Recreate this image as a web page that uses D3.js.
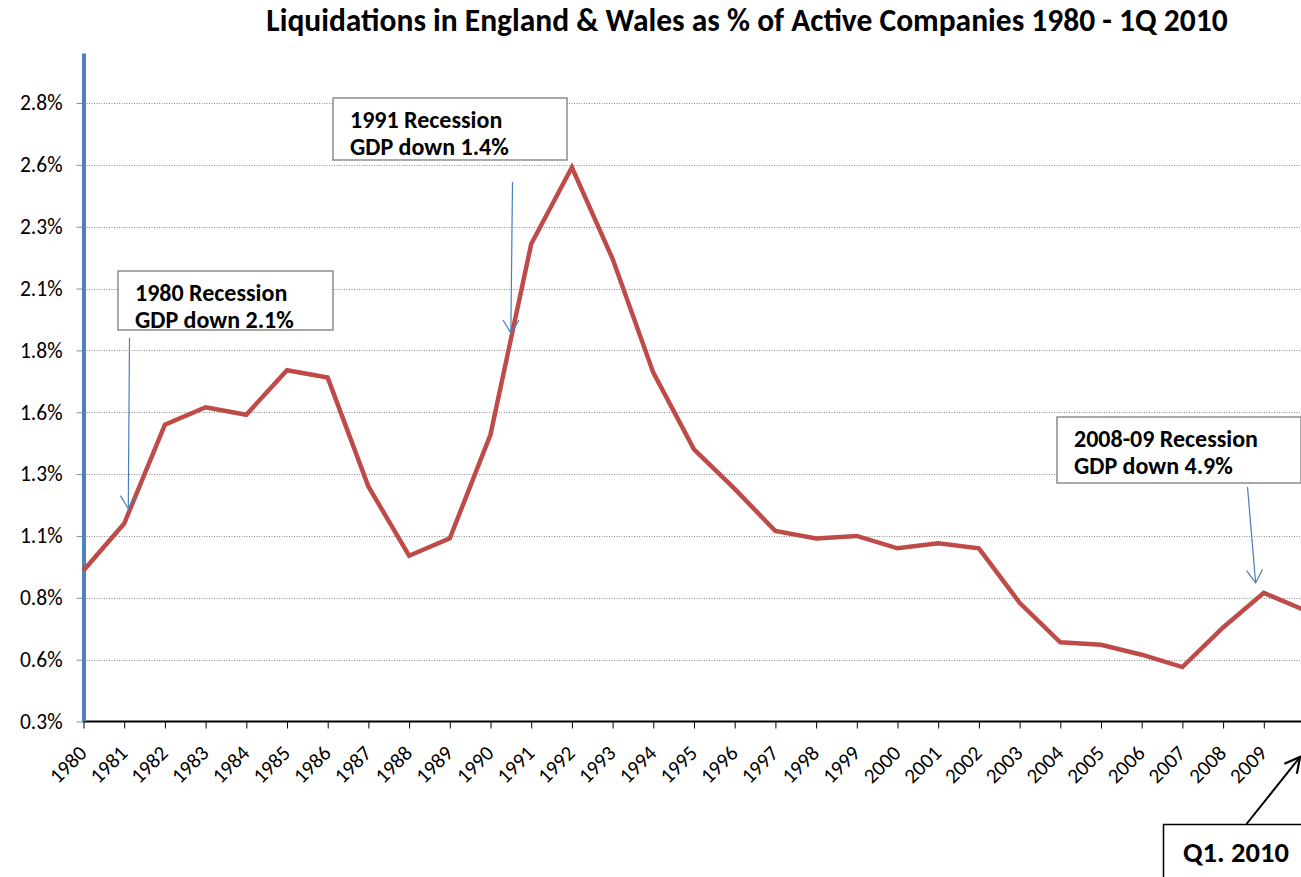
<!DOCTYPE html>
<html>
<head>
<meta charset="utf-8">
<script src="https://cdn.jsdelivr.net/npm/d3@7"></script>
<style>
  body { margin: 0; background: #fff; }
  svg { display: block; font-family: Calibri, Carlito, Lato, sans-serif; }
</style>
</head>
<body>
<div class="chart"></div>
<script>
// liquidations as % of active companies, 1980 .. Q1 2010
var years = [1980, 1981, 1982, 1983, 1984, 1985, 1986, 1987, 1988, 1989,
             1990, 1991, 1992, 1993, 1994, 1995, 1996, 1997, 1998, 1999,
             2000, 2001, 2002, 2003, 2004, 2005, 2006, 2007, 2008, 2009, 2010];
var rates = [0.91, 1.10, 1.50, 1.57, 1.54, 1.72, 1.69, 1.25, 0.97, 1.04,
             1.46, 2.23, 2.54, 2.17, 1.71, 1.40, 1.24, 1.07, 1.04, 1.05,
             1.00, 1.02, 1.00, 0.78, 0.62, 0.61, 0.57, 0.52, 0.68, 0.82, 0.75];
var xTickLabels = ["1980", "1981", "1982", "1983", "1984", "1985", "1986", "1987", "1988", "1989",
                   "1990", "1991", "1992", "1993", "1994", "1995", "1996", "1997", "1998", "1999",
                   "2000", "2001", "2002", "2003", "2004", "2005", "2006", "2007", "2008", "2009"];
var yTickValues = [0.3, 0.55, 0.8, 1.05, 1.3, 1.55, 1.8, 2.05, 2.3, 2.55, 2.8];
var yTickLabels = ["0.3%", "0.6%", "0.8%", "1.1%", "1.3%", "1.6%", "1.8%", "2.1%", "2.3%", "2.6%", "2.8%"];

var notes = [
  {lines: ["1980 Recession", "GDP down 2.1%"], box: [118, 271, 215, 59], from: [129.5, 338], to: [1981.1, 1.16]},
  {lines: ["1991 Recession", "GDP down 1.4%"], box: [333, 98, 234, 62], from: [512.5, 182], to: [1990.5, 1.87]},
  {lines: ["2008-09 Recession", "GDP down 4.9%"], box: [1057, 417, 244, 66], from: [1247.5, 487], to: [2008.8, 0.86]}
];

var width = 1301, height = 877;
var font = "Calibri, Carlito, Lato, sans-serif";

var x = d3.scaleLinear().domain([1980, 2010]).range([83.5, 1304.5]);
var y = d3.scaleLinear().domain([0.3, 3.0]).range([721.5, 53.5]);

var svg = d3.select(".chart")
        .append("svg")
        .attr("width", width)
        .attr("height", height);

svg.append("rect").attr("width", width).attr("height", height).attr("fill", "#fff");

var defs = svg.append("defs");
defs.append("marker")
        .attr("id", "blueHead")
        .attr("viewBox", "0 0 16 18")
        .attr("refX", 14).attr("refY", 9)
        .attr("markerWidth", 16).attr("markerHeight", 18)
        .attr("markerUnits", "userSpaceOnUse")
        .attr("orient", "auto")
        .append("path")
        .attr("d", "M1,1 L14,9 L1,17")
        .attr("fill", "none")
        .attr("stroke", "#4a7ebb")
        .attr("stroke-width", 1.2);
defs.append("marker")
        .attr("id", "blackHead")
        .attr("viewBox", "0 0 18 18")
        .attr("refX", 16).attr("refY", 9)
        .attr("markerWidth", 18).attr("markerHeight", 18)
        .attr("markerUnits", "userSpaceOnUse")
        .attr("orient", "auto")
        .append("path")
        .attr("d", "M1,1 L16,9 L1,17")
        .attr("fill", "none")
        .attr("stroke", "#000")
        .attr("stroke-width", 2.2);

// title
svg.append("text")
        .attr("x", 747)
        .attr("y", 31)
        .attr("text-anchor", "middle")
        .attr("font-weight", "bold")
        .attr("font-size", 31.5)
        .text("Liquidations in England & Wales as % of Active Companies 1980  - 1Q 2010");

// gridlines
svg.append("g")
        .selectAll("line")
        .data(yTickValues.slice(1))
        .enter()
        .append("line")
        .attr("x1", 84).attr("x2", width)
        .attr("y1", function(d) { return Math.round(y(d)) + 0.5; })
        .attr("y2", function(d) { return Math.round(y(d)) + 0.5; })
        .attr("stroke", "#8c8c8c")
        .attr("stroke-dasharray", "1,1.5");

// y axis
var yAxis = d3.axisLeft(y)
        .tickValues(yTickValues)
        .tickSize(7)
        .tickFormat(function(d, i) { return yTickLabels[i]; });
var gy = svg.append("g")
        .attr("transform", "translate(83.5,0)")
        .call(yAxis);
gy.select(".domain").remove();
gy.selectAll(".tick line").attr("stroke", "#8c8c8c");
gy.selectAll(".tick text")
        .attr("x", -21)
        .attr("font-size", 21.5)
        .attr("font-family", font)
        .attr("fill", "#000");

// x axis
var xAxis = d3.axisBottom(x)
        .tickValues(years.slice(0, xTickLabels.length))
        .tickSize(7)
        .tickFormat(function(d, i) { return xTickLabels[i]; });
var gx = svg.append("g")
        .attr("transform", "translate(0,721.5)")
        .call(xAxis);
gx.select(".domain").remove();
gx.append("line")
        .attr("x1", 83).attr("x2", width)
        .attr("stroke", "#000")
        .attr("stroke-width", 2);
gx.selectAll(".tick line").attr("stroke", "#000");
gx.selectAll(".tick text")
        .attr("y", 0)
        .attr("dy", 0)
        .attr("font-size", 21)
        .attr("font-family", font)
        .attr("fill", "#000")
        .attr("text-anchor", "end")
        .attr("transform", "translate(4,33) rotate(-45)");

// left blue axis line
svg.append("line")
        .attr("x1", 84).attr("x2", 84)
        .attr("y1", y(3.0)).attr("y2", y(0.3))
        .attr("stroke", "#4f81bd")
        .attr("stroke-width", 4);

// data line
var line = d3.line()
        .x(function(d, i) { return x(years[i]); })
        .y(function(d) { return y(d); });

svg.append("path")
        .datum(rates)
        .attr("d", line)
        .attr("fill", "none")
        .attr("stroke", "#be4b48")
        .attr("stroke-width", 4.5)
        .attr("stroke-linejoin", "miter");

// annotation boxes
var note = svg.selectAll(".note")
        .data(notes)
        .enter()
        .append("g")
        .attr("class", "note");

note.append("rect")
        .attr("x", function(d) { return d.box[0]; })
        .attr("y", function(d) { return d.box[1]; })
        .attr("width", function(d) { return d.box[2]; })
        .attr("height", function(d) { return d.box[3]; })
        .attr("fill", "#fff")
        .attr("stroke", "#8c8c8c")
        .attr("stroke-width", 1.5);

note.each(function(d) {
  var t = d3.select(this).append("text")
          .attr("font-weight", "bold")
          .attr("font-size", 24)
          .attr("fill", "#000");
  d.lines.forEach(function(s, i) {
    t.append("tspan")
            .attr("x", d.box[0] + 17)
            .attr("y", d.box[1] + 30 + i * 27)
            .text(s);
  });
});

note.append("line")
        .attr("x1", function(d) { return d.from[0]; })
        .attr("y1", function(d) { return d.from[1]; })
        .attr("x2", function(d) { return x(d.to[0]); })
        .attr("y2", function(d) { return y(d.to[1]); })
        .attr("stroke", "#4a7ebb")
        .attr("stroke-width", 1.2)
        .attr("marker-end", "url(#blueHead)");

// Q1 2010 callout
svg.append("rect")
        .attr("x", 1163.5).attr("y", 824.5)
        .attr("width", 160).attr("height", 80)
        .attr("fill", "#fff")
        .attr("stroke", "#000")
        .attr("stroke-width", 1.5);
svg.append("text")
        .attr("x", 1183)
        .attr("y", 862)
        .attr("font-weight", "bold")
        .attr("font-size", 28.5)
        .text("Q1. 2010");
svg.append("line")
        .attr("x1", 1246.5).attr("y1", 824)
        .attr("x2", 1300).attr("y2", 757)
        .attr("stroke", "#000")
        .attr("stroke-width", 2)
        .attr("marker-end", "url(#blackHead)");
</script>
</body>
</html>
